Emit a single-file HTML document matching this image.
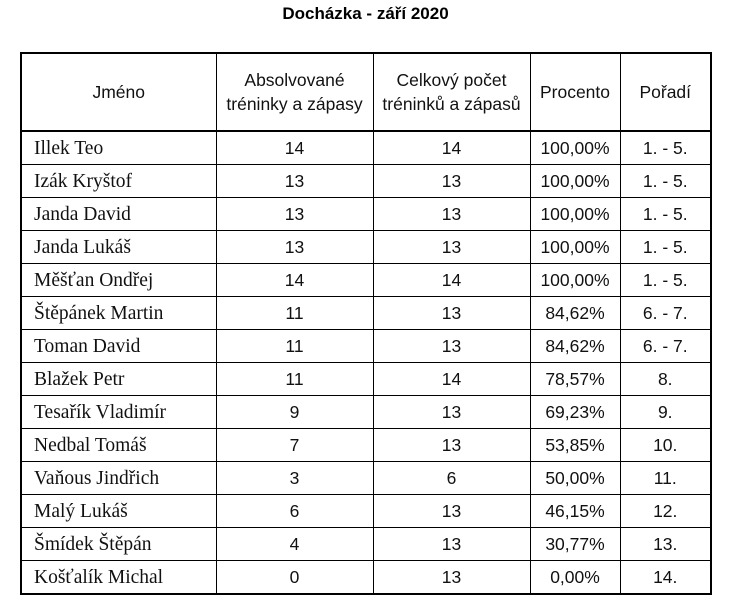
<!DOCTYPE html>
<html><head><meta charset="utf-8"><style>
body{margin:0;background:#fff;width:731px;height:614px;position:relative;overflow:hidden}
.t{position:absolute;left:0;top:4px;width:731px;text-align:center;font:bold 17px "Liberation Sans",sans-serif;color:#000}
table{position:absolute;left:20px;top:52px;border-collapse:collapse;border:2px solid #000}
td{border:1px solid #000;padding:0;height:32px;text-align:center;font:17.5px "Liberation Sans",sans-serif;color:#111;white-space:nowrap}
tr.h td{height:76px;line-height:24px;border-bottom:2px solid #000}
td.n{text-align:left;padding-left:12px;padding-top:2px;height:30px;font:19.5px "Liberation Serif",serif}
</style></head><body>
<div class="t">Docházka - září 2020</div>
<table>
<colgroup><col style="width:195px"><col style="width:157px"><col style="width:157px"><col style="width:90px"><col style="width:91px"></colgroup>
<tr class="h"><td>Jméno</td><td>Absolvované<br>tréninky a zápasy</td><td>Celkový počet<br>tréninků a zápasů</td><td>Procento</td><td>Pořadí</td></tr>
<tr><td class="n">Illek Teo</td><td>14</td><td>14</td><td>100,00%</td><td>1. - 5.</td></tr>
<tr><td class="n">Izák Kryštof</td><td>13</td><td>13</td><td>100,00%</td><td>1. - 5.</td></tr>
<tr><td class="n">Janda David</td><td>13</td><td>13</td><td>100,00%</td><td>1. - 5.</td></tr>
<tr><td class="n">Janda Lukáš</td><td>13</td><td>13</td><td>100,00%</td><td>1. - 5.</td></tr>
<tr><td class="n">Měšťan Ondřej</td><td>14</td><td>14</td><td>100,00%</td><td>1. - 5.</td></tr>
<tr><td class="n">Štěpánek Martin</td><td>11</td><td>13</td><td>84,62%</td><td>6. - 7.</td></tr>
<tr><td class="n">Toman David</td><td>11</td><td>13</td><td>84,62%</td><td>6. - 7.</td></tr>
<tr><td class="n">Blažek Petr</td><td>11</td><td>14</td><td>78,57%</td><td>8.</td></tr>
<tr><td class="n">Tesařík Vladimír</td><td>9</td><td>13</td><td>69,23%</td><td>9.</td></tr>
<tr><td class="n">Nedbal Tomáš</td><td>7</td><td>13</td><td>53,85%</td><td>10.</td></tr>
<tr><td class="n">Vaňous Jindřich</td><td>3</td><td>6</td><td>50,00%</td><td>11.</td></tr>
<tr><td class="n">Malý Lukáš</td><td>6</td><td>13</td><td>46,15%</td><td>12.</td></tr>
<tr><td class="n">Šmídek Štěpán</td><td>4</td><td>13</td><td>30,77%</td><td>13.</td></tr>
<tr><td class="n">Košťalík Michal</td><td>0</td><td>13</td><td>0,00%</td><td>14.</td></tr>
</table>
</body></html>
